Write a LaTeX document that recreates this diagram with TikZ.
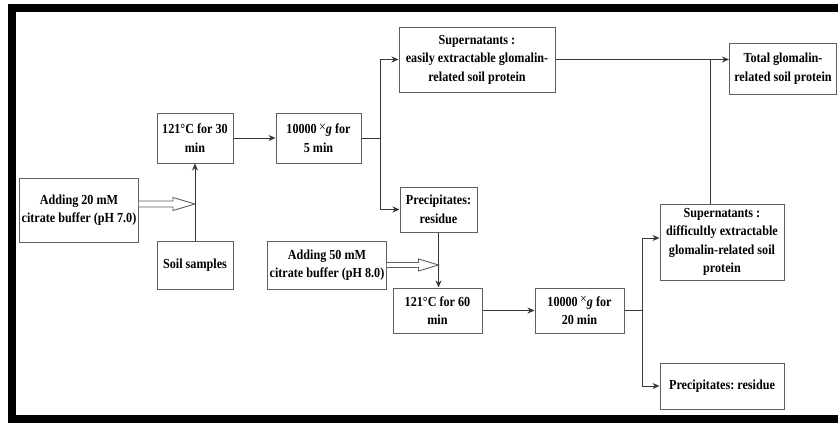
\documentclass[tikz,border=0pt]{standalone}
\usepackage{fontspec}
\setmainfont{Liberation Serif}[FakeStretch=0.88]
\usepackage{tikz}
\usetikzlibrary{arrows.meta, positioning, calc}
\frenchspacing

\begin{document}
\begin{tikzpicture}[
    x=1pt, y=-1pt,
    >=Stealth,
    every node/.style={font=\bfseries\fontsize{13.8}{18.5}\selectfont, align=center, text=black},
    stepBox/.style={
      rectangle, draw=lineGray, fill=white, line width=1pt,
      inner sep=2pt
    },
    arr/.style={-{Stealth[length=7pt, width=6pt]}, draw=lineDark, line width=0.9pt},
    link/.style={draw=lineDark, line width=0.9pt},
    hollow/.style={draw=lineGray, fill=white, line width=0.9pt, line join=miter}
  ]
    \definecolor{lineGray}{RGB}{95,95,95}
    \definecolor{lineDark}{RGB}{55,55,55}

    \useasboundingbox (0,0) rectangle (838,423);
    \fill[white] (0,0) rectangle (838,423);
    \draw[line width=8pt, line join=miter] (838,8) -- (12,8) -- (12,419) -- (838,419);

    \node[stepBox, minimum width=112pt, minimum height=64pt] (add20) at (79,210)
      {Adding 20 mM\\citrate buffer (pH 7.0)};
    \node[stepBox, minimum width=76pt, minimum height=50pt] (heat30) at (195,138)
      {121°C for 30\\min};
    \node[stepBox, minimum width=85pt, minimum height=50pt] (spin5) at (318.5,138)
      {10000\,{\mdseries\raisebox{2.5pt}{×}}\textit{g} for\\5 min};
    \node[stepBox, minimum width=76pt, minimum height=48pt] (soil) at (195,265)
      {Soil samples};
    \node[stepBox, minimum width=156pt, minimum height=65pt] (supEasy) at (477,59.5)
      {Supernatants :\\easily extractable glomalin-\\related soil protein};
    \node[stepBox, minimum width=77pt, minimum height=45pt] (precTop) at (438.5,209.5)
      {Precipitates:\\residue};
    \node[stepBox, minimum width=107pt, minimum height=51pt] (total) at (783,68.5)
      {Total glomalin-\\related soil protein};
    \node[stepBox, minimum width=110pt, minimum height=48pt] (add50) at (327,265)
      {Adding 50 mM\\citrate buffer (pH 8.0)};
    \node[stepBox, minimum width=89pt, minimum height=45pt] (heat60) at (437.5,310.5)
      {121°C for 60\\min};
    \node[stepBox, minimum width=89pt, minimum height=45pt] (spin20) at (579.5,310.5)
      {10000\,{\mdseries\raisebox{2.5pt}{×}}\textit{g} for\\20 min};
    \node[stepBox, minimum width=124pt, minimum height=76pt] (supHard) at (722,242)
      {Supernatants :\\difficultly extractable\\glomalin-related soil\\protein};
    \node[stepBox, minimum width=124pt, minimum height=46pt] (precBot) at (722,386)
      {Precipitates: residue};

    \coordinate (inA) at ($(add20.east)+(0,-6)$);
    \coordinate (tipA) at (soil.north |- inA);
    \draw[hollow] ($(inA)+(0,-3)$) -- ($(tipA)+(-22,-3)$) -- ($(tipA)+(-22,-6.5)$) -- (tipA)
      -- ($(tipA)+(-22,6.5)$) -- ($(tipA)+(-22,3)$) -- ($(inA)+(0,3)$);
    \draw[arr] (soil.north) -- (heat30.south);
    \draw[arr] (heat30.east) -- (spin5.west);

    \coordinate (forkA) at ($(spin5.east)+(19,0)$);
    \draw[link] (spin5.east) -- (forkA);
    \draw[arr] (forkA) |- (supEasy.west);
    \draw[arr] (forkA) |- (precTop.west);

    \coordinate (merge) at (710,59.5);
    \draw[arr] (supEasy.east) -- (total.west |- supEasy.east);
    \draw[link] (supHard.north -| merge) -- (merge);

    \coordinate (tipB) at (precTop.south |- add50.east);
    \draw[hollow] ($(add50.east)+(0,-2.5)$) -- ($(tipB)+(-20,-2.5)$) -- ($(tipB)+(-20,-6)$) -- (tipB)
      -- ($(tipB)+(-20,6)$) -- ($(tipB)+(-20,2.5)$) -- ($(add50.east)+(0,2.5)$);
    \draw[arr] (precTop.south) -- (precTop.south |- heat60.north);
    \draw[arr] (heat60.east) -- (spin20.west);

    \coordinate (forkB) at ($(spin20.east)+(18,0)$);
    \draw[link] (spin20.east) -- (forkB);
    \draw[arr] (forkB) |- ($(supHard.west)+(0,-4)$);
    \draw[arr] (forkB) |- (precBot.west);
\end{tikzpicture}
\end{document}
